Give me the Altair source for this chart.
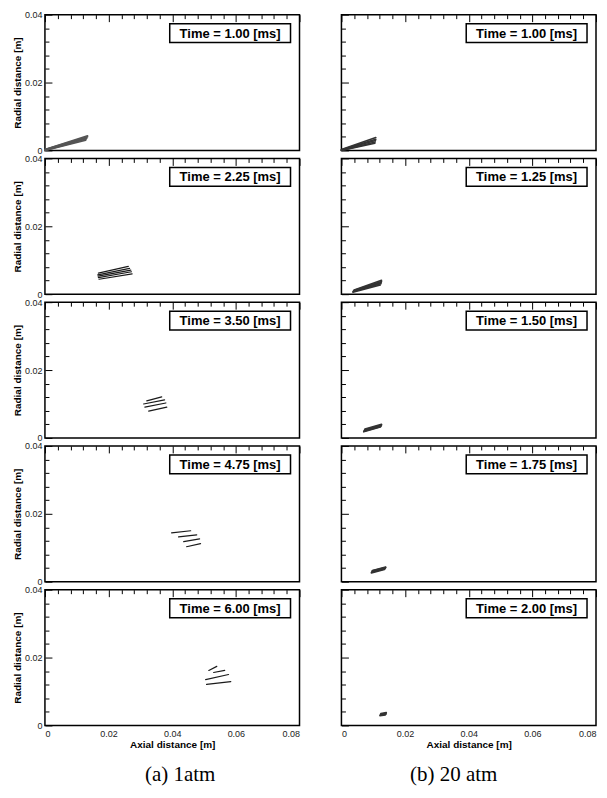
import altair as alt
import pandas as pd

# ---- axis ticks / labels ----
X_TICKS = [0, 0.004, 0.008, 0.012, 0.016, 0.02, 0.024, 0.028, 0.032, 0.036, 0.04,
           0.044, 0.048, 0.052, 0.056, 0.06, 0.064, 0.068, 0.072, 0.076, 0.08]
X_LABELS = [0, 0.02, 0.04, 0.06, 0.08]
Y_TICKS = [0, 0.004, 0.008, 0.012, 0.016, 0.02, 0.024, 0.028, 0.032, 0.036, 0.04]
Y_LABELS = [0, 0.02, 0.04]

TIMES_A = ["1.00", "2.25", "3.50", "4.75", "6.00"]
TIMES_B = ["1.00", "1.25", "1.50", "1.75", "2.00"]
CAPTIONS = ["(a) 1atm", "(b) 20 atm"]

# ---- droplet streaks: panel id, start (x1, y1), end (x2, y2) in metres ----
PANEL = (["a0"] * 5 + ["a1"] * 5 + ["a2"] * 4 + ["a3"] * 4 + ["a4"] * 4
         + ["b0"] * 5 + ["b1"] * 5 + ["b2"] * 5 + ["b3"] * 5 + ["b4"] * 4)
X1 = [0, 0, 0, 0, 0,
      0.0168, 0.0166, 0.0167, 0.0168, 0.0170,
      0.0320, 0.0310, 0.0314, 0.0326,
      0.0398, 0.0420, 0.0436, 0.0445,
      0.0515, 0.0530, 0.0505, 0.0508,
      0, 0, 0, 0, 0,
      0.0036, 0.0037, 0.0038, 0.0039, 0.0040,
      0.0070, 0.0071, 0.0072, 0.0073, 0.0074,
      0.0094, 0.0095, 0.0096, 0.0097, 0.0098,
      0.0121, 0.0122, 0.0123, 0.0124]
Y1 = [0, 0, 0.0002, 0.0003, 0.0003,
      0.0062, 0.0057, 0.0053, 0.0049, 0.0044,
      0.0109, 0.0100, 0.0091, 0.0079,
      0.0144, 0.0132, 0.0118, 0.0103,
      0.0162, 0.0156, 0.0135, 0.0121,
      0, 0, 0.0001, 0.0002, 0.0003,
      0.0006, 0.0008, 0.0009, 0.0011, 0.0012,
      0.0018, 0.0020, 0.0022, 0.0024, 0.0026,
      0.0026, 0.0028, 0.0030, 0.0032, 0.0033,
      0.0029, 0.0031, 0.0033, 0.0035]
X2 = [0.0128, 0.0130, 0.0132, 0.0134, 0.0134,
      0.0262, 0.0266, 0.0270, 0.0272, 0.0274,
      0.0367, 0.0376, 0.0380, 0.0383,
      0.0458, 0.0477, 0.0486, 0.0489,
      0.0540, 0.0565, 0.0577, 0.0584,
      0.0105, 0.0106, 0.0107, 0.0108, 0.0108,
      0.0122, 0.0124, 0.0125, 0.0126, 0.0126,
      0.0122, 0.0124, 0.0125, 0.0126, 0.0126,
      0.0135, 0.0137, 0.0138, 0.0139, 0.0139,
      0.0138, 0.0140, 0.0141, 0.0141]
Y2 = [0.0030, 0.0034, 0.0037, 0.0040, 0.0043,
      0.0082, 0.0076, 0.0071, 0.0066, 0.0060,
      0.0121, 0.0112, 0.0103, 0.0091,
      0.0150, 0.0138, 0.0126, 0.0112,
      0.0174, 0.0162, 0.0150, 0.0129,
      0.0021, 0.0025, 0.0029, 0.0033, 0.0038,
      0.0027, 0.0031, 0.0034, 0.0037, 0.0041,
      0.0032, 0.0034, 0.0036, 0.0038, 0.0040,
      0.0036, 0.0038, 0.0040, 0.0042, 0.0043,
      0.0031, 0.0033, 0.0036, 0.0038]

df = pd.DataFrame({"panel": PANEL, "x1": X1, "y1": Y1, "x2": X2, "y2": Y2})

W, H = 255, 136
FONT = "Liberation Sans"


def major_test(labels):
    return "indexof([" + ",".join(str(v) for v in labels) + "], datum.value) >= 0"


def dash(labels):
    return {"condition": {"test": major_test(labels), "value": [7, 2000]},
            "value": [4, 2000]}


def panel(pid, time, col, row):
    d = df[df["panel"] == pid]
    show_x = row == 4
    show_y = col == 0
    xaxis = alt.Axis(values=X_TICKS, labels=show_x, format=".2~f",
                     labelExpr="(" + major_test(X_LABELS) + ") ? datum.label : ''",
                     ticks=False, tickSize=0, domain=False, grid=True,
                     gridColor="black", gridOpacity=1, gridWidth=1,
                     gridDash=dash(X_LABELS), labelPadding=4, titlePadding=1,
                     labelColor="#222")
    yaxis = alt.Axis(values=Y_TICKS, labels=show_y, format=".2~f",
                     labelExpr="(" + major_test(Y_LABELS) + ") ? datum.label : ''",
                     ticks=False, tickSize=0, domain=False, grid=True,
                     gridColor="black", gridOpacity=1, gridWidth=1,
                     gridDash=dash(Y_LABELS), labelPadding=3, titlePadding=2,
                     labelColor="#222")
    color = "#1a1a1a" if (col == 0 and row > 0) else ("#555" if col == 0 else "#333")
    sw = 1.2 if (col == 0 and row > 0) else 1.6
    streaks = alt.Chart(d).mark_rule(color=color, strokeWidth=sw, strokeCap="round").encode(
        x=alt.X("x1:Q", scale=alt.Scale(domain=[0, 0.08], nice=False), axis=xaxis,
                title="Axial distance [m]" if show_x else None),
        y=alt.Y("y1:Q", scale=alt.Scale(domain=[0, 0.04], nice=False), axis=yaxis,
                title="Radial distance [m]" if show_y else None),
        x2="x2:Q",
        y2="y2:Q",
    )
    lab = pd.DataFrame({"t": ["Time = " + time + " [ms]"]})
    box = alt.Chart(lab).mark_rect(fill="white", stroke="black", strokeWidth=1.5).encode(
        x=alt.value(W - 130), x2=alt.value(W - 9), y=alt.value(9), y2=alt.value(28))
    txt = alt.Chart(lab).mark_text(font=FONT, fontWeight="bold", fontSize=13,
                                   align="center", baseline="middle").encode(
        x=alt.value(W - 69.5), y=alt.value(19), text="t:N")
    layers = [streaks, box, txt]
    if row == 4:
        cap = pd.DataFrame({"c": [CAPTIONS[col]]})
        layers.append(alt.Chart(cap).mark_text(
            font="Liberation Serif", fontSize=21, align="center", baseline="middle",
            color="black").encode(
            x=alt.value(W / 2 + (8 if col == 0 else -15)), y=alt.value(H + 50), text="c:N"))
    return alt.layer(*layers).properties(width=W, height=H)


panels = []
for r in range(5):
    panels.append(panel("a" + str(r), TIMES_A[r], 0, r))
    panels.append(panel("b" + str(r), TIMES_B[r], 1, r))

chart = alt.concat(*panels, columns=2, spacing={"row": 8, "column": 42},
                   bounds="flush").properties(
    padding={"left": 3, "top": 1, "right": 2, "bottom": 0}
).configure_view(stroke="black", strokeWidth=1.5).configure_axis(
    labelFont=FONT, labelFontSize=9, titleFont=FONT, titleFontSize=10,
    titleFontWeight="bold", titleColor="black"
)

chart.save("out.html", embed_options={"renderer": "svg", "actions": False})
